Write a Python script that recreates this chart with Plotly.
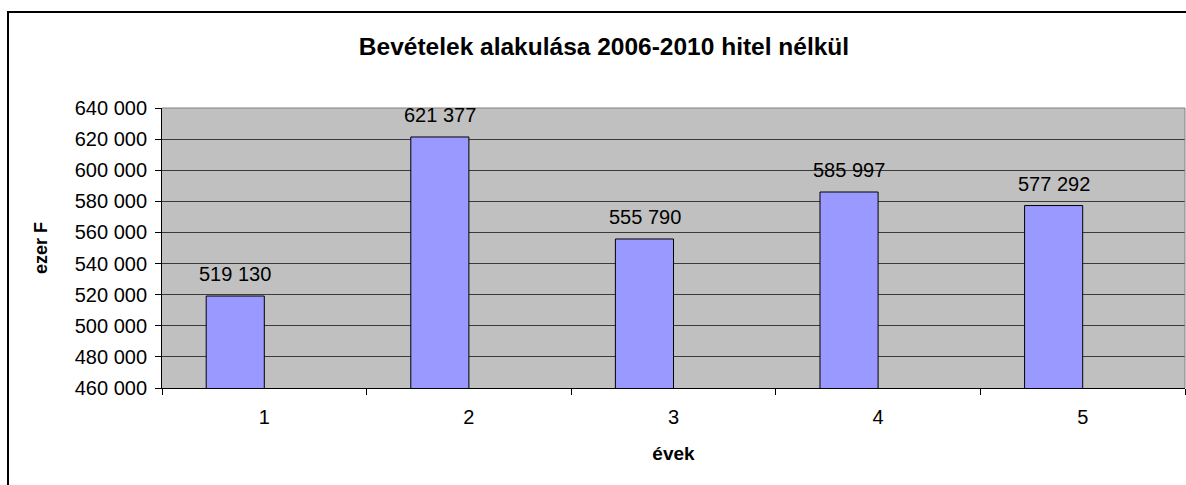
import plotly.graph_objects as go

categories = ["1", "2", "3", "4", "5"]
values = [519130, 621377, 555790, 585997, 577292]
y_ticks = list(range(460000, 640001, 20000))
title_text = "Bevételek alakulása 2006-2010 hitel nélkül"
x_title = "évek"
y_title = "ezer F"

FONT = "Liberation Sans, Arial, sans-serif"

fig = go.Figure()
fig.add_trace(go.Bar(
    x=categories, y=values,
    offset=-0.284, width=0.284,
    marker=dict(color="#9999FF", line=dict(color="#000000", width=1)),
    hoverinfo="skip",
))

for i, v in enumerate(values):
    fig.add_annotation(
        x=i, y=v, xref="x", yref="y",
        text=f"{v:,}".replace(",", " "),
        showarrow=False, yanchor="bottom", xshift=-29, yshift=9,
        font=dict(family=FONT, size=20, color="#000000"),
    )

fig.update_layout(
    width=1186, height=485,
    margin=dict(l=162, r=1, t=108, b=97),
    paper_bgcolor="#FFFFFF", plot_bgcolor="#C0C0C0",
    separators=", ",
    showlegend=False,
    title=dict(text=f"<b>{title_text}</b>", x=604/1186, xanchor="center",
               y=1-46/485, yanchor="middle",
               font=dict(family=FONT, size=24.5, color="#000000")),
    font=dict(family=FONT, size=20, color="#000000"),
)

fig.update_xaxes(
    type="category", categoryorder="array", categoryarray=categories,
    range=[-0.5, len(categories) - 0.5],
    tickson="boundaries", ticks="outside", ticklen=6,
    tickcolor="#000000", showline=True, linecolor="#000000", linewidth=1,
    showgrid=False, ticklabelstandoff=11,
    title=dict(text=f"<b>{x_title}</b>", font=dict(family=FONT, size=19), standoff=19),
    tickfont=dict(family=FONT, size=20),
)
fig.update_yaxes(
    range=[460000, 640000], tickvals=y_ticks, tickformat=",d",
    ticks="outside", ticklen=6, tickcolor="#000000",
    showline=True, linecolor="#000000", linewidth=1,
    showgrid=True, gridcolor="#3a3a3a", gridwidth=1, zeroline=False,
    ticklabelstandoff=4,
    title=dict(text=f"<b>{y_title}</b>", font=dict(family=FONT, size=18), standoff=22),
    tickfont=dict(family=FONT, size=20),
)

# plot-area gray border (top and right)
fig.add_shape(type="line", xref="paper", yref="paper", x0=0, x1=1, y0=1, y1=1,
              line=dict(color="#808080", width=1))
fig.add_shape(type="line", xref="paper", yref="paper", x0=1, x1=1, y0=0, y1=1,
              line=dict(color="#808080", width=1))
# outer chart border
fig.add_shape(type="rect", xref="paper", yref="paper",
              x0=(8 - 162) / 1023, x1=1.2, y0=-0.5, y1=1 + (108 - 12) / 280,
              line=dict(color="#000000", width=2), fillcolor="rgba(0,0,0,0)")

fig.write_html("out.html", config={"displayModeBar": False},
               post_script="document.body.style.margin='0px';document.body.style.overflow='hidden';")
